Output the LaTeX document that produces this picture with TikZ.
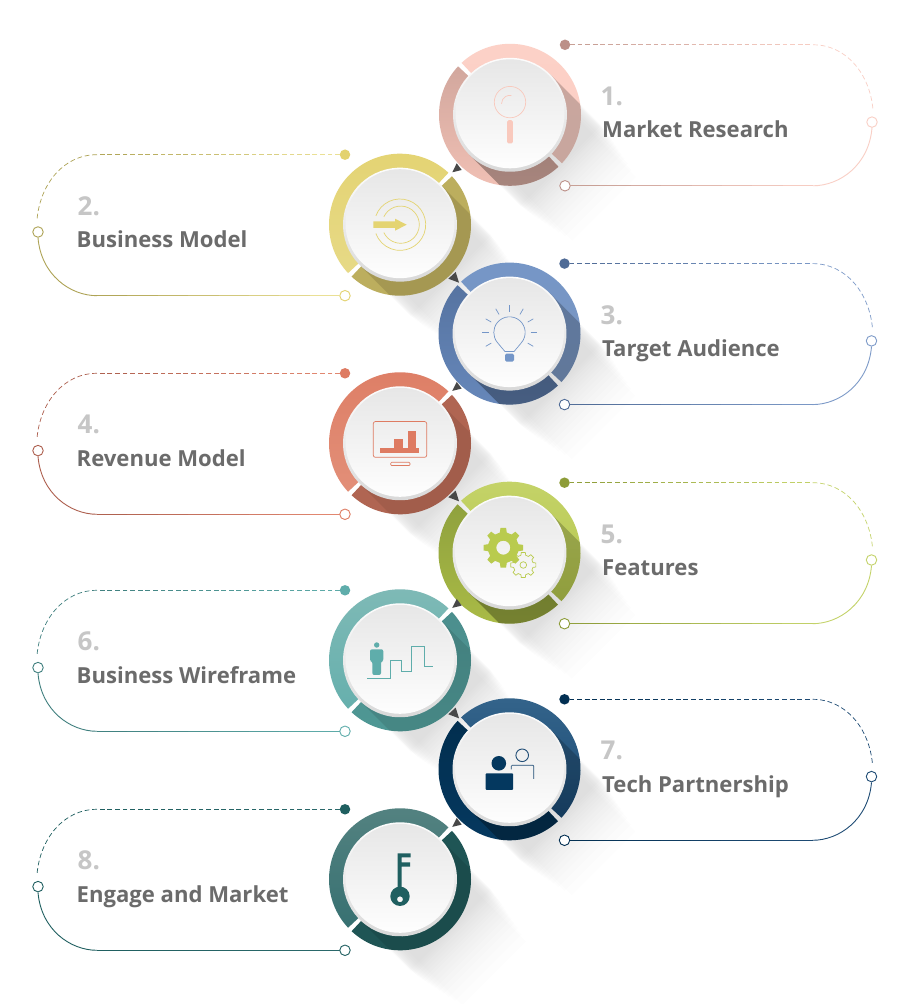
\documentclass[tikz,border=0pt]{standalone}
\usepackage{fontspec}
\setmainfont{Open Sans}
\usetikzlibrary{calc}
% panel line colours
\definecolor{near1}{HTML}{C49C93}\definecolor{far1}{HTML}{F9CFC5}\definecolor{dot1}{HTML}{BC9088}
\definecolor{near2}{HTML}{EFE59A}\definecolor{far2}{HTML}{AEA355}\definecolor{dot2}{HTML}{E3D26F}
\definecolor{near3}{HTML}{4F6B96}\definecolor{far3}{HTML}{7D9AC8}\definecolor{dot3}{HTML}{4F6B96}
\definecolor{near4}{HTML}{E58A73}\definecolor{far4}{HTML}{AD5F4E}\definecolor{dot4}{HTML}{DE7B62}
\definecolor{near5}{HTML}{8D9C38}\definecolor{far5}{HTML}{C4D36A}\definecolor{dot5}{HTML}{8D9C38}
\definecolor{near6}{HTML}{5FADAB}\definecolor{far6}{HTML}{3F7F7E}\definecolor{dot6}{HTML}{5FADAB}
\definecolor{near7}{HTML}{022F52}\definecolor{far7}{HTML}{1F4C75}\definecolor{dot7}{HTML}{022F52}
\definecolor{near8}{HTML}{2B696B}\definecolor{far8}{HTML}{1F5F60}\definecolor{dot8}{HTML}{1F5F60}
\definecolor{ico1}{HTML}{F9C9BD}\definecolor{ico2}{HTML}{E4D472}\definecolor{ico3}{HTML}{7496C8}
\definecolor{ico4}{HTML}{DE7B62}\definecolor{ico5}{HTML}{B9CB4E}\definecolor{ico6}{HTML}{5FADAB}
\definecolor{ico7}{HTML}{04385F}\definecolor{ico8}{HTML}{1F5F60}
\definecolor{txtc}{HTML}{6B6B6B}\definecolor{numc}{HTML}{C6C6C6}\definecolor{tric}{HTML}{484848}
\tikzset{
  x=1pt,y=1pt,
  filleddot/.style={circle,inner sep=0pt,minimum size=10.5pt},
  opendot/.style={circle,inner sep=0pt,minimum size=10.5pt,fill=white,line width=.9pt},
  numtxt/.style={anchor=base west,inner sep=0pt,text=numc,font=\fontsize{26}{30}\selectfont\bfseries},
  labtxt/.style={anchor=base west,inner sep=0pt,text=txtc,font=\fontsize{22.1}{26}\selectfont\bfseries},
}
% #1 cx #2 cy : long soft shadow on the background, narrowing and fading with distance
\newcommand{\longshadow}[2]{%
  \begin{scope}[shift={(#1,1004-#2)},rotate=-45]
    \foreach \d/\w in {72/57,74/57,76/56.5,78/56,81/56,84/55.5,87/55,90/54.5,94/54,98/53,102/52,107/51,112/50,118/49,125/47,133/45}{\fill[black,fill opacity=.0075] (0,-\w) rectangle (\d,\w);}
  \end{scope}}
% one half of a ring: from, to, axis, three colours, shadow opacity
\newcommand{\halfring}[7]{%
  \begin{scope}
    \definecolor{hra}{HTML}{#4}\definecolor{hrb}{HTML}{#5}\definecolor{hrc}{HTML}{#6}%
    \clip (#1:71) arc[start angle=#1,end angle=#2,radius=71] -- (#2:55) arc[start angle=#2,end angle=#1,radius=55] -- cycle;
    \begin{scope}[rotate=#3-90]
      \shade[top color=hra,middle color=hrb,bottom color=hrc] (-72,-72) rectangle (72,72);
    \end{scope}
    \begin{scope}[rotate=-45]
      \fill[black,fill opacity=#7] (0,-57) rectangle (80,57);
    \end{scope}
  \end{scope}}
\newcommand{\disc}{%
  \begin{scope}[rotate=20]
    \shade[top color=white,middle color=white,bottom color=black!16] (0,0) circle[radius=57];
  \end{scope}
  \begin{scope}[rotate=45]
    \shade[top color=black!10,bottom color=white] (.7,.7) circle[radius=54.5];
  \end{scope}}
% #1 idx, #2 cx, #3 cy, #4 side, #5 number, #6 label, #7 number x, #8 label x
\newcommand{\panel}[8]{%
  \begin{scope}[shift={(#2,1004-#3)},xscale=#4]
    \node[filleddot,fill=dot#1] (dot#1) at (55,70) {};
    \node[opendot,draw=dot#1] (open#1) at (55,-71) {};
    \node[opendot,draw=far#1] (far#1) at (362,-7.3) {};
    \path (dot#1) ++(5,0) coordinate (ds#1);
    \path (open#1) ++(5,0) coordinate (os#1);
    \coordinate (te#1) at (303,70);
    \coordinate (be#1) at (303,-71);
    \foreach \i in {0,...,7}{
      \pgfmathtruncatemacro{\p}{100-100*(\i+.5)/8}
      \pgfmathsetmacro{\ta}{\i/8}\pgfmathsetmacro{\tb}{(\i+1)/8}
      \draw[color=near#1!\p!far#1,line width=.7pt,dash pattern=on 4.8pt off 2.8pt] ($(ds#1)!\ta!(te#1)$) -- ($(ds#1)!\tb!(te#1)$);
      \draw[color=near#1!\p!far#1,line width=.9pt] ($(os#1)!\ta!(be#1)$) -- ($(os#1)!\tb!(be#1)$);
    }
    \draw[color=far#1,line width=.7pt,dash pattern=on 4.8pt off 2.8pt] (te#1) .. controls (337,70) and (360,40) .. (363,5);
    \draw[color=far#1,line width=.9pt] (far#1.south) .. controls (359,-50) and (330,-71) .. (be#1);
  \end{scope}
  \node[numtxt] (num#1) at (#7,1004-#3+9.3) {#5};
  \node[labtxt] (lab#1) at (#8,1004-#3-23.2) {#6};}
\newcommand{\triA}[2]{\fill[tric] (#1+56.7,1004-#2+61.4) -- (#1+61.7,1004-#2+54.7) -- (#1+52.3,1004-#2+52.4) -- cycle;}
\newcommand{\triB}[2]{\fill[tric] (#1+55.7,1004-#2-47.3) -- (#1+59,1004-#2-58) -- (#1+48.3,1004-#2-54) -- cycle;}
\begin{document}
\begin{tikzpicture}
\useasboundingbox (0,0) rectangle (910,1004);
\fill[white] (0,0) rectangle (910,1004);
\longshadow{510}{114.8}\longshadow{400}{224.7}\longshadow{509.5}{333.6}\longshadow{400}{443.3}
\longshadow{509.5}{552.7}\longshadow{400}{660.3}\longshadow{509.5}{769.3}\longshadow{400}{879.3}
\panel{1}{510}{114.8}{1}{1.}{Market Research}{600.5}{602}
\panel{2}{400}{224.7}{-1}{2.}{Business Model}{77.5}{76.5}
\panel{3}{509.5}{333.6}{1}{3.}{Target Audience}{600.5}{602}
\panel{4}{400}{443.3}{-1}{4.}{Revenue Model}{77.5}{76.5}
\panel{5}{509.5}{552.7}{1}{5.}{Features}{600.5}{602}
\panel{6}{400}{660.3}{-1}{6.}{Business Wireframe}{77.5}{76.5}
\panel{7}{509.5}{769.3}{1}{7.}{Tech Partnership}{600.5}{602}
\panel{8}{400}{879.3}{-1}{8.}{Engage and Market}{77.5}{76.5}
% circle 1
\begin{scope}[shift={(510,1004-114.8)}]
  \halfring{-43}{133}{45}{FCD1C7}{FBCFC5}{FBCFC5}{.2}
  \halfring{137}{313}{135}{C49C93}{F4C4BA}{F8C6BA}{.3}
  \disc
  \draw[ico1,line width=.7pt] (0,12.7) circle[radius=15.7];
  \draw[ico1,line width=.7pt] (-8.5,11) arc[start angle=180,end angle=80,radius=8.5];
  \fill[ico1,rounded corners=1.5pt] (-2.8,-5.3) rectangle (2.8,-28.7);
\end{scope}
% circle 2
\begin{scope}[shift={(400,1004-224.7)}]
  \halfring{47}{223}{135}{E3D26F}{E8DC8E}{E8DC8E}{0}
  \halfring{-133}{43}{45}{BCAE5E}{BAAC5C}{BCAE5E}{.12}
  \disc
  \draw[ico2,line width=.7pt] (160:25.7) arc[start angle=160,end angle=-160,radius=25.7];
  \draw[ico2,line width=.7pt] (.7,0) ++(155:18.6) arc[start angle=155,end angle=-155,radius=18.6];
  \fill[ico2] (-26.7,-3.3) -- (-5,-3.3) -- (-5,-6) -- (6.7,0) -- (-5,6) -- (-5,3.3) -- (-26.7,3.3) -- cycle;
\end{scope}
% circle 3
\begin{scope}[shift={(509.5,1004-333.6)}]
  \halfring{-43}{133}{45}{7496C8}{7D97BE}{7D97BE}{.2}
  \halfring{137}{313}{135}{4F6B96}{6484B5}{6A8CC0}{.3}
  \disc
  \draw[ico3,line width=.7pt] (12,-9) arc[start angle=-40,end angle=220,radius=15.7] -- (-4.5,-18) -- (4.5,-18) -- cycle;
  \fill[ico3,rounded corners=1.5pt] (-4.5,-20) -- (4.5,-20) -- (4.5,-28) -- (-4.5,-28) -- cycle;
  \foreach \a in {-30,0,...,210}{\draw[ico3,line width=.7pt] (0,1) ++(\a:21) -- ++(\a:6.5);}
\end{scope}
% circle 4
\begin{scope}[shift={(400,1004-443.3)}]
  \halfring{47}{223}{135}{DD7B62}{E49680}{E49680}{0}
  \halfring{-133}{43}{45}{B06552}{AE6350}{B06552}{.08}
  \disc
  \draw[ico4,line width=.7pt,rounded corners=2pt] (-26.7,21.7) rectangle (26.7,-14);
  \draw[ico4,line width=.7pt,rounded corners=1pt] (-9.3,-19) rectangle (10,-22.3);
  \fill[ico4] (-20,-10) rectangle (19.3,-4.3);
  \fill[ico4] (-5.7,-4.3) rectangle (3.3,4);
  \fill[ico4] (7.7,-4.3) rectangle (16,12.3);
\end{scope}
% circle 5
\begin{scope}[shift={(509.5,1004-552.7)}]
  \halfring{-43}{133}{45}{C8D66F}{AEC040}{AEC040}{.2}
  \halfring{137}{313}{135}{84963A}{AEBF46}{B0C148}{.3}
  \disc
  \begin{scope}[shift={(13.8,-12.3)}]
    \draw[ico5,line width=.7pt] (-14:10) \foreach \a in {0,45,...,315}{ -- ({\a-14}:10) -- ({\a-9}:12.7) -- ({\a+9}:12.7) -- ({\a+14}:10)} -- cycle;
    \draw[ico5,line width=.7pt] (0,0) circle[radius=3.3];
  \end{scope}
  \begin{scope}[shift={(-6.2,5)}]
    \fill[ico5,even odd rule] (-13:15.5) \foreach \a in {0,45,...,315}{ -- ({\a-13}:15.5) -- ({\a-8}:20) -- ({\a+8}:20) -- ({\a+13}:15.5)} -- cycle (0,0) circle[radius=7];
  \end{scope}
\end{scope}
% circle 6
\begin{scope}[shift={(400,1004-660.3)}]
  \halfring{47}{223}{135}{84BCB8}{5CABA9}{5CABA9}{0}
  \halfring{-133}{43}{45}{4A8A8A}{4C8F8E}{4F9A96}{.1}
  \disc
  \fill[ico6] (-23.3,15.3) circle[radius=2.7];
  \fill[ico6,rounded corners=2pt] (-30,-1) -- (-30,11) -- (-16.7,11) -- (-16.7,-1) -- (-19,-1) -- (-19,-14.7) -- (-27.7,-14.7) -- (-27.7,-1) -- cycle;
  \draw[ico6,line width=.9pt] (-33,-18) -- (-9.3,-18) -- (-9.3,-.3) -- (1.7,-.3) -- (1.7,-11.3) -- (11.7,-11.3) -- (11.7,13.7) -- (24,13.7) -- (24,-6.3) -- (33.3,-6.3);
\end{scope}
% circle 7
\begin{scope}[shift={(509.5,1004-769.3)}]
  \halfring{-43}{133}{45}{3A6A90}{0F3F6A}{0F3F6A}{.2}
  \halfring{137}{313}{135}{002A48}{03335A}{063B63}{.3}
  \disc
  \fill[ico7] (-10.7,6) circle[radius=7.3];
  \fill[ico7,rounded corners=1pt] (-24,-20.7) rectangle (3.7,-4);
  \draw[far7,line width=.9pt] (12.7,14) circle[radius=6.3];
  \draw[far7,line width=.7pt,rounded corners=1pt] (1.7,0) -- (1.7,4) -- (24.3,4) -- (24.3,-9.7);
\end{scope}
% circle 8
\begin{scope}[shift={(400,1004-879.3)}]
  \halfring{47}{223}{135}{5A8684}{2B696B}{2B696B}{0}
  \halfring{-133}{43}{45}{1F5555}{1E5354}{1F5555}{.1}
  \disc
  \fill[ico8] (-2.3,26) -- (10.7,26) -- (10.7,22) -- (1.7,22) -- (1.7,17) -- (10,17) -- (10,12.7) -- (1.7,12.7) -- (1.7,-9) -- (-2.3,-9) -- cycle;
  \fill[ico8,even odd rule] (0,-17) circle[radius=9.7] (0,-20) circle[radius=3];
\end{scope}
% arrowheads
\triA{400}{224.7}\triB{400}{224.7}
\triA{400}{443.3}\triB{400}{443.3}
\triA{400}{660.3}\triB{400}{660.3}
\triA{400}{879.3}
\end{tikzpicture}
\end{document}
